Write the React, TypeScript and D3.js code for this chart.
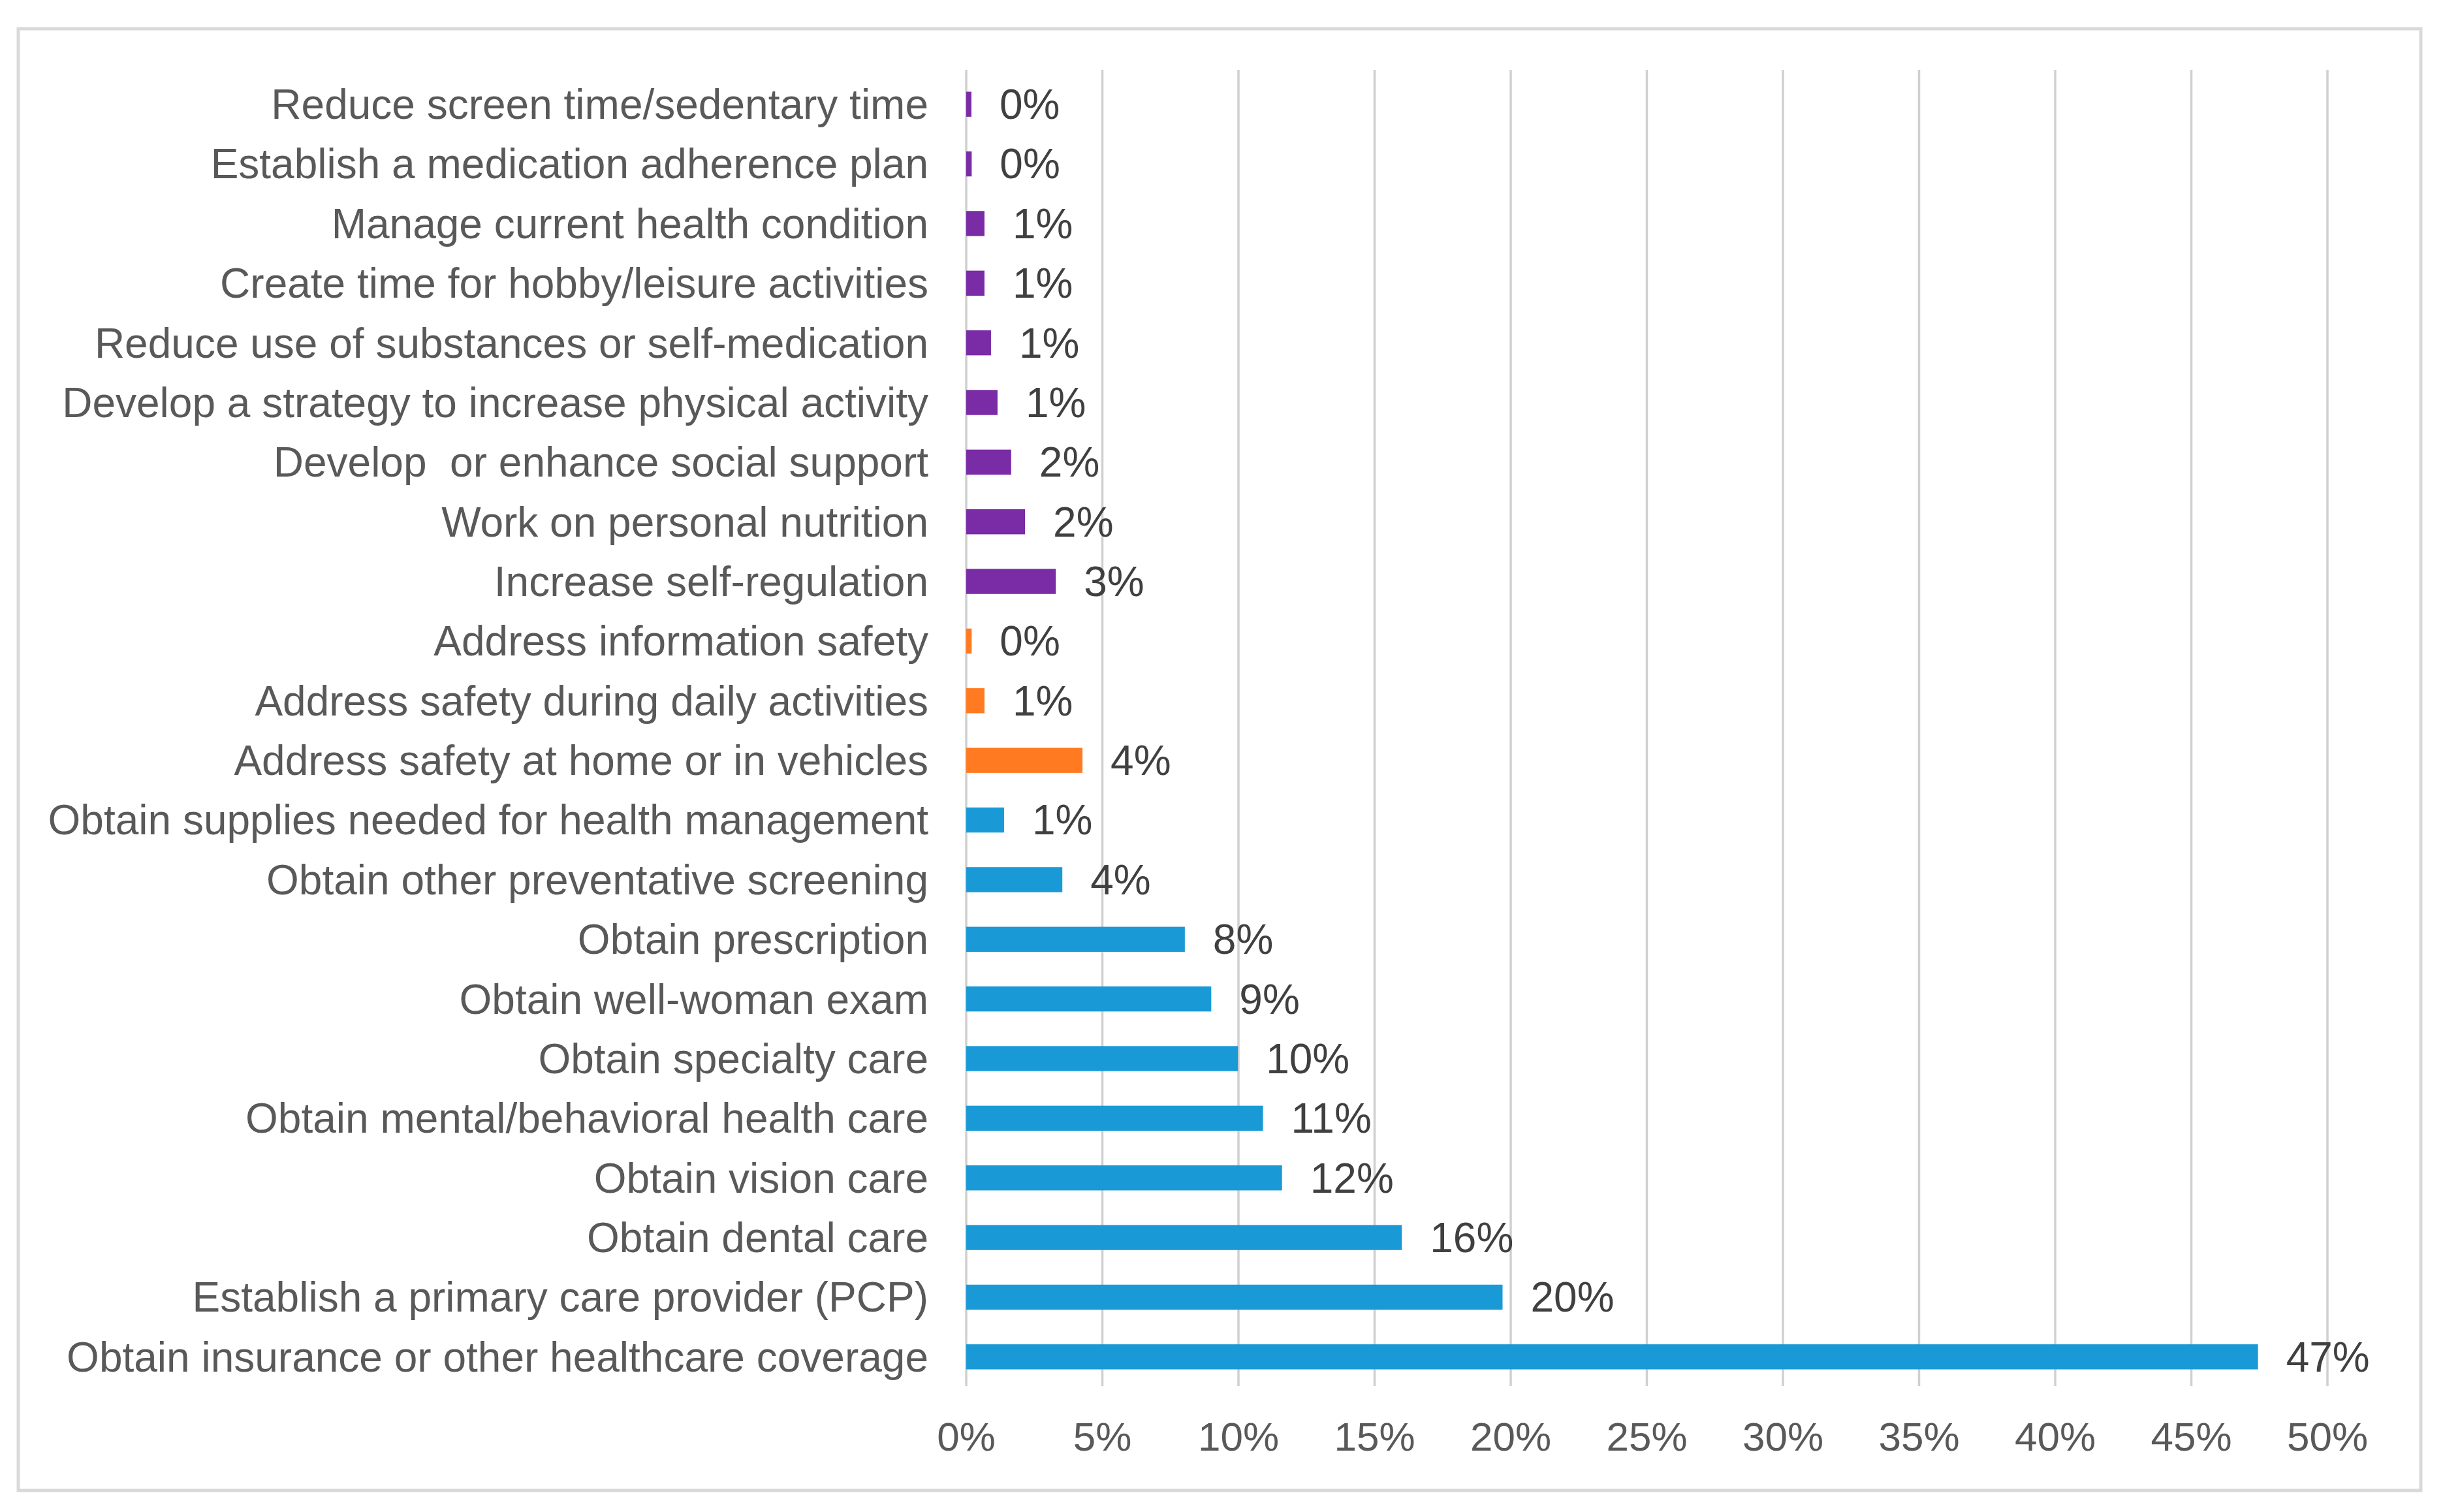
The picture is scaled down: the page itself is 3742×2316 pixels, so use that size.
import React, { useEffect, useRef } from 'react';
import * as d3 from 'd3';

const categories = [
  'Reduce screen time/sedentary time',
  'Establish a medication adherence plan',
  'Manage current health condition',
  'Create time for hobby/leisure activities',
  'Reduce use of substances or self-medication',
  'Develop a strategy to increase physical activity',
  'Develop  or enhance social support',
  'Work on personal nutrition',
  'Increase self-regulation',
  'Address information safety',
  'Address safety during daily activities',
  'Address safety at home or in vehicles',
  'Obtain supplies needed for health management',
  'Obtain other preventative screening',
  'Obtain prescription',
  'Obtain well-woman exam',
  'Obtain specialty care',
  'Obtain mental/behavioral health care',
  'Obtain vision care',
  'Obtain dental care',
  'Establish a primary care provider (PCP)',
  'Obtain insurance or other healthcare coverage',
];

// share of respondents, in percent
const values = [
  0.19, 0.2, 0.67, 0.67, 0.91, 1.15, 1.65, 2.16, 3.29,
  0.2, 0.67, 4.27,
  1.39, 3.53, 8.03, 9.0, 9.98, 10.9, 11.6, 16.0, 19.7, 47.45,
];

const groups = [
  'self', 'self', 'self', 'self', 'self', 'self', 'self', 'self', 'self',
  'safety', 'safety', 'safety',
  'care', 'care', 'care', 'care', 'care', 'care', 'care', 'care', 'care', 'care',
];

const groupColors: Record<string, string> = {
  self: '#7a2ba6',
  safety: '#ff7a21',
  care: '#199ad6',
};

const xTicks = [0, 5, 10, 15, 20, 25, 30, 35, 40, 45, 50];

const W = 3742;
const H = 2316;
const FONT = '"Liberation Sans", Arial, sans-serif';

export default function App() {
  const svgRef = useRef<SVGSVGElement>(null);

  useEffect(() => {
    if (!svgRef.current) return;
    const svg = d3.select(svgRef.current);
    svg.selectAll('*').remove();

    const x = d3.scaleLinear().domain([0, 50]).range([1480, 3565]);
    const y = d3.scaleBand<string>()
      .domain(categories)
      .range([114, 2124])
      .paddingInner(0.58)
      .paddingOuter(0.29);

    svg.append('rect')
      .attr('x', 0).attr('y', 0).attr('width', W).attr('height', H)
      .attr('fill', '#fff');

    svg.append('rect')
      .attr('x', 28).attr('y', 44)
      .attr('width', 3680).attr('height', 2239)
      .attr('fill', 'none')
      .attr('stroke', '#d9d9d9')
      .attr('stroke-width', 5);

    // vertical gridlines
    svg.append('g')
      .selectAll('line')
      .data(xTicks)
      .join('line')
      .attr('x1', d => x(d)).attr('x2', d => x(d))
      .attr('y1', 107).attr('y2', 2123)
      .attr('stroke', '#d0d0d0')
      .attr('stroke-width', 3.5);

    // tick labels
    svg.append('g')
      .selectAll('text')
      .data(xTicks)
      .join('text')
      .attr('x', d => x(d))
      .attr('y', 2200)
      .attr('dy', '0.35em')
      .attr('text-anchor', 'middle')
      .style('font-family', FONT)
      .style('font-size', '62px')
      .attr('fill', '#595959')
      .text(d => `${d}%`);

    const rows = categories.map((c, i) => ({ c, v: values[i], g: groups[i] }));

    svg.append('g')
      .selectAll('rect')
      .data(rows)
      .join('rect')
      .attr('x', x(0))
      .attr('y', d => y(d.c)!)
      .attr('width', d => x(d.v) - x(0))
      .attr('height', y.bandwidth())
      .attr('fill', d => groupColors[d.g]);

    // category labels
    svg.append('g')
      .selectAll('text')
      .data(rows)
      .join('text')
      .attr('x', 1422)
      .attr('y', d => y(d.c)! + y.bandwidth() / 2)
      .attr('dy', '0.35em')
      .attr('text-anchor', 'end')
      .style('font-family', FONT)
      .style('font-size', '64px')
      .style('white-space', 'pre')
      .attr('fill', '#595959')
      .text(d => d.c);

    // value labels
    svg.append('g')
      .selectAll('text')
      .data(rows)
      .join('text')
      .attr('x', d => x(d.v) + 43)
      .attr('y', d => y(d.c)! + y.bandwidth() / 2)
      .attr('dy', '0.35em')
      .style('font-family', FONT)
      .style('font-size', '64px')
      .attr('fill', '#404040')
      .text(d => `${Math.round(d.v)}%`);
  }, []);

  return (
    <svg
      ref={svgRef}
      width={W}
      height={H}
      style={{ position: 'absolute', left: 0, top: 0, display: 'block' }}
    />
  );
}
